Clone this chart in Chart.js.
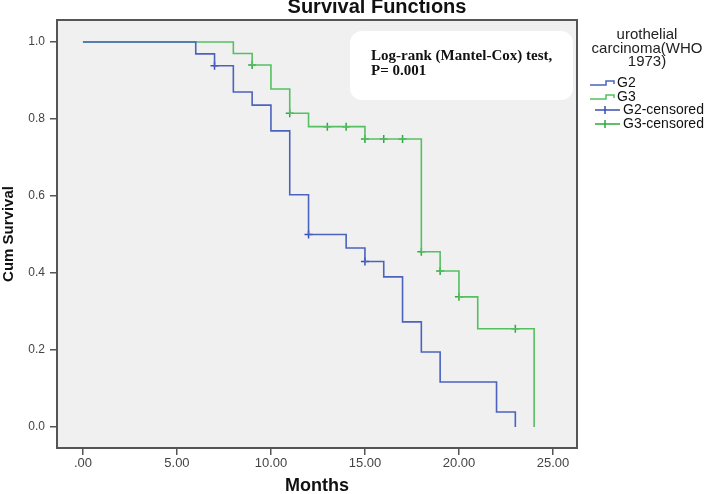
<!DOCTYPE html>
<html>
<head>
<meta charset="utf-8">
<script src="https://cdn.jsdelivr.net/npm/chart.js@4.4.1/dist/chart.umd.min.js"></script>
<style>
    html, body { margin: 0; padding: 0; background: #ffffff; }
</style>
</head>
<body>
<canvas id="survivalChart" width="706" height="494"></canvas>
<script>
// Kaplan-Meier steps (month, cumulative survival)
const g2Months = [0, 6, 7, 8, 9, 10, 11, 12, 14, 15, 16, 17, 18, 19, 22, 23];
const g2Survival = [1.0, 0.969, 0.938, 0.87, 0.836, 0.769, 0.603, 0.50, 0.465, 0.43, 0.39, 0.273, 0.195, 0.117, 0.039, 0.0];
const g3Months = [0, 8, 9, 10, 11, 12, 15, 18, 19, 20, 21, 24];
const g3Survival = [1.0, 0.97, 0.94, 0.878, 0.815, 0.78, 0.748, 0.455, 0.405, 0.338, 0.255, 0.0];

// censored cases
const g2CensoredMonths = [7, 12, 15];
const g2CensoredSurvival = [0.938, 0.50, 0.43];
const g3CensoredMonths = [9, 11, 13, 14, 15, 16, 17, 18, 19, 20, 23];
const g3CensoredSurvival = [0.94, 0.815, 0.78, 0.78, 0.748, 0.748, 0.748, 0.455, 0.405, 0.338, 0.255];

const xTickValues = [0, 5, 10, 15, 20, 25];
const yTickValues = [0, 0.2, 0.4, 0.6, 0.8, 1.0];

const legendTitle = ["urothelial", "carcinoma(WHO", "1973)"];
const annotationLines = ["Log-rank (Mantel-Cox) test,", "P= 0.001"];

const blueLine = "#4b62bf";
const greenLine = "#55c061";
const blueMark = "#3a4fb0";
const greenMark = "#2fa83e";

function toPoints(xs, ys) {
    return xs.map((x, i) => ({ x: x, y: ys[i] }));
}

// grey plot background + frame
const framePlugin = {
    id: "frame",
    beforeDraw(chart) {
        const ctx = chart.ctx;
        const a = chart.chartArea;
        ctx.save();
        ctx.fillStyle = "#ffffff";
        ctx.fillRect(0, 0, chart.width, chart.height);
        ctx.fillStyle = "#f0f0f0";
        ctx.fillRect(a.left, a.top, a.right - a.left, a.bottom - a.top);
        ctx.restore();
    },
    beforeDatasetsDraw(chart) {
        // log-rank box
        const ctx = chart.ctx;
        ctx.save();
        ctx.fillStyle = "#ffffff";
        ctx.beginPath();
        ctx.roundRect(350, 31, 223, 69, 12);
        ctx.fill();
        ctx.fillStyle = "#111111";
        ctx.font = "bold 15px 'Liberation Serif', 'Times New Roman', serif";
        ctx.textBaseline = "middle";
        ctx.fillText(annotationLines[0], 371, 56);
        ctx.fillText(annotationLines[1], 371, 71);
        ctx.restore();
    },
    afterDraw(chart) {
        const ctx = chart.ctx;
        const a = chart.chartArea;
        ctx.save();
        ctx.strokeStyle = "#555555";
        ctx.lineWidth = 2;
        ctx.strokeRect(a.left, a.top, a.right - a.left, a.bottom - a.top);

        // title, slightly clipped at the top like the original
        ctx.fillStyle = "#111111";
        ctx.font = "bold 20px 'Liberation Sans', Arial, sans-serif";
        ctx.textAlign = "center";
        ctx.textBaseline = "alphabetic";
        ctx.fillText("Survival Functions", 377, 13);

        // legend
        ctx.fillStyle = "#222222";
        ctx.font = "15px 'Liberation Sans', Arial, sans-serif";
        ctx.textBaseline = "middle";
        legendTitle.forEach((t, i) => ctx.fillText(t, 647, 35 + i * 13.5));

        ctx.textAlign = "left";
        ctx.font = "14px 'Liberation Sans', Arial, sans-serif";
        const items = chart.data.datasets;
        const rowY = [83, 97, 110, 124];
        items.forEach((ds, i) => {
            const y = rowY[i];
            ctx.strokeStyle = ds.borderColor;
            ctx.lineWidth = 1.5;
            ctx.beginPath();
            if (ds.showLine) {
                ctx.moveTo(590, y + 2);
                ctx.lineTo(606, y + 2);
                ctx.lineTo(606, y - 2);
                ctx.lineTo(614, y - 2);
                ctx.lineTo(614, y + 1);
                ctx.stroke();
                ctx.fillStyle = "#111111";
                ctx.fillText(ds.label, 617, y);
            } else {
                ctx.moveTo(595, y);
                ctx.lineTo(620, y);
                ctx.moveTo(605, y - 4);
                ctx.lineTo(605, y + 4);
                ctx.stroke();
                ctx.fillStyle = "#111111";
                ctx.fillText(ds.label, 623, y);
            }
        });
        ctx.restore();
    }
};

const chartCanvas = document.getElementById("survivalChart");

new Chart(chartCanvas, {
    type: "scatter",
    data: {
        datasets: [
            {
                label: "G2",
                data: toPoints(g2Months, g2Survival),
                showLine: true,
                stepped: "before",
                borderColor: blueLine,
                borderWidth: 1.6,
                pointRadius: 0,
                fill: false
            },
            {
                label: "G3",
                data: toPoints(g3Months, g3Survival),
                showLine: true,
                stepped: "before",
                borderColor: greenLine,
                borderWidth: 1.6,
                pointRadius: 0,
                fill: false
            },
            {
                label: "G2-censored",
                data: toPoints(g2CensoredMonths, g2CensoredSurvival),
                showLine: false,
                pointStyle: "cross",
                pointRadius: 4,
                borderColor: blueMark,
                borderWidth: 1.5
            },
            {
                label: "G3-censored",
                data: toPoints(g3CensoredMonths, g3CensoredSurvival),
                showLine: false,
                pointStyle: "cross",
                pointRadius: 4,
                borderColor: greenMark,
                borderWidth: 1.5
            }
        ]
    },
    options: {
        responsive: false,
        animation: false,
        devicePixelRatio: 1,
        layout: {
            padding: { top: 20, right: 129, left: 0, bottom: 0 }
        },
        plugins: {
            legend: { display: false },
            tooltip: { enabled: false }
        },
        scales: {
            x: {
                type: "linear",
                min: -1.38,
                max: 26.28,
                afterBuildTicks: (scale) => {
                    scale.ticks = xTickValues.map(v => ({ value: v }));
                },
                afterFit: (scale) => { scale.height = 46; },
                border: { display: false },
                grid: {
                    drawOnChartArea: false,
                    drawTicks: true,
                    tickLength: 7,
                    color: "#555555",
                    lineWidth: 1.5
                },
                ticks: {
                    padding: 1,
                    color: "#444444",
                    font: { family: "'Liberation Sans', Arial, sans-serif", size: 13 },
                    maxRotation: 0,
                    callback: (v) => (v === 0 ? ".00" : v.toFixed(2))
                },
                title: {
                    display: true,
                    text: "Months",
                    color: "#111111",
                    padding: { top: 0, bottom: -3 },
                    font: { family: "'Liberation Sans', Arial, sans-serif", size: 18, weight: "bold" }
                }
            },
            y: {
                type: "linear",
                min: -0.0545,
                max: 1.057,
                afterBuildTicks: (scale) => {
                    scale.ticks = yTickValues.map(v => ({ value: v }));
                },
                afterFit: (scale) => { scale.width = 57; },
                border: { display: false },
                grid: {
                    drawOnChartArea: false,
                    drawTicks: true,
                    tickLength: 7,
                    color: "#555555",
                    lineWidth: 1.5
                },
                ticks: {
                    padding: 5,
                    color: "#444444",
                    font: { family: "'Liberation Sans', Arial, sans-serif", size: 12 },
                    callback: (v) => v.toFixed(1)
                },
                title: {
                    display: true,
                    text: "Cum Survival",
                    color: "#111111",
                    padding: 0,
                    font: { family: "'Liberation Sans', Arial, sans-serif", size: 15, weight: "bold" }
                }
            }
        }
    },
    plugins: [framePlugin]
});
</script>
</body>
</html>
